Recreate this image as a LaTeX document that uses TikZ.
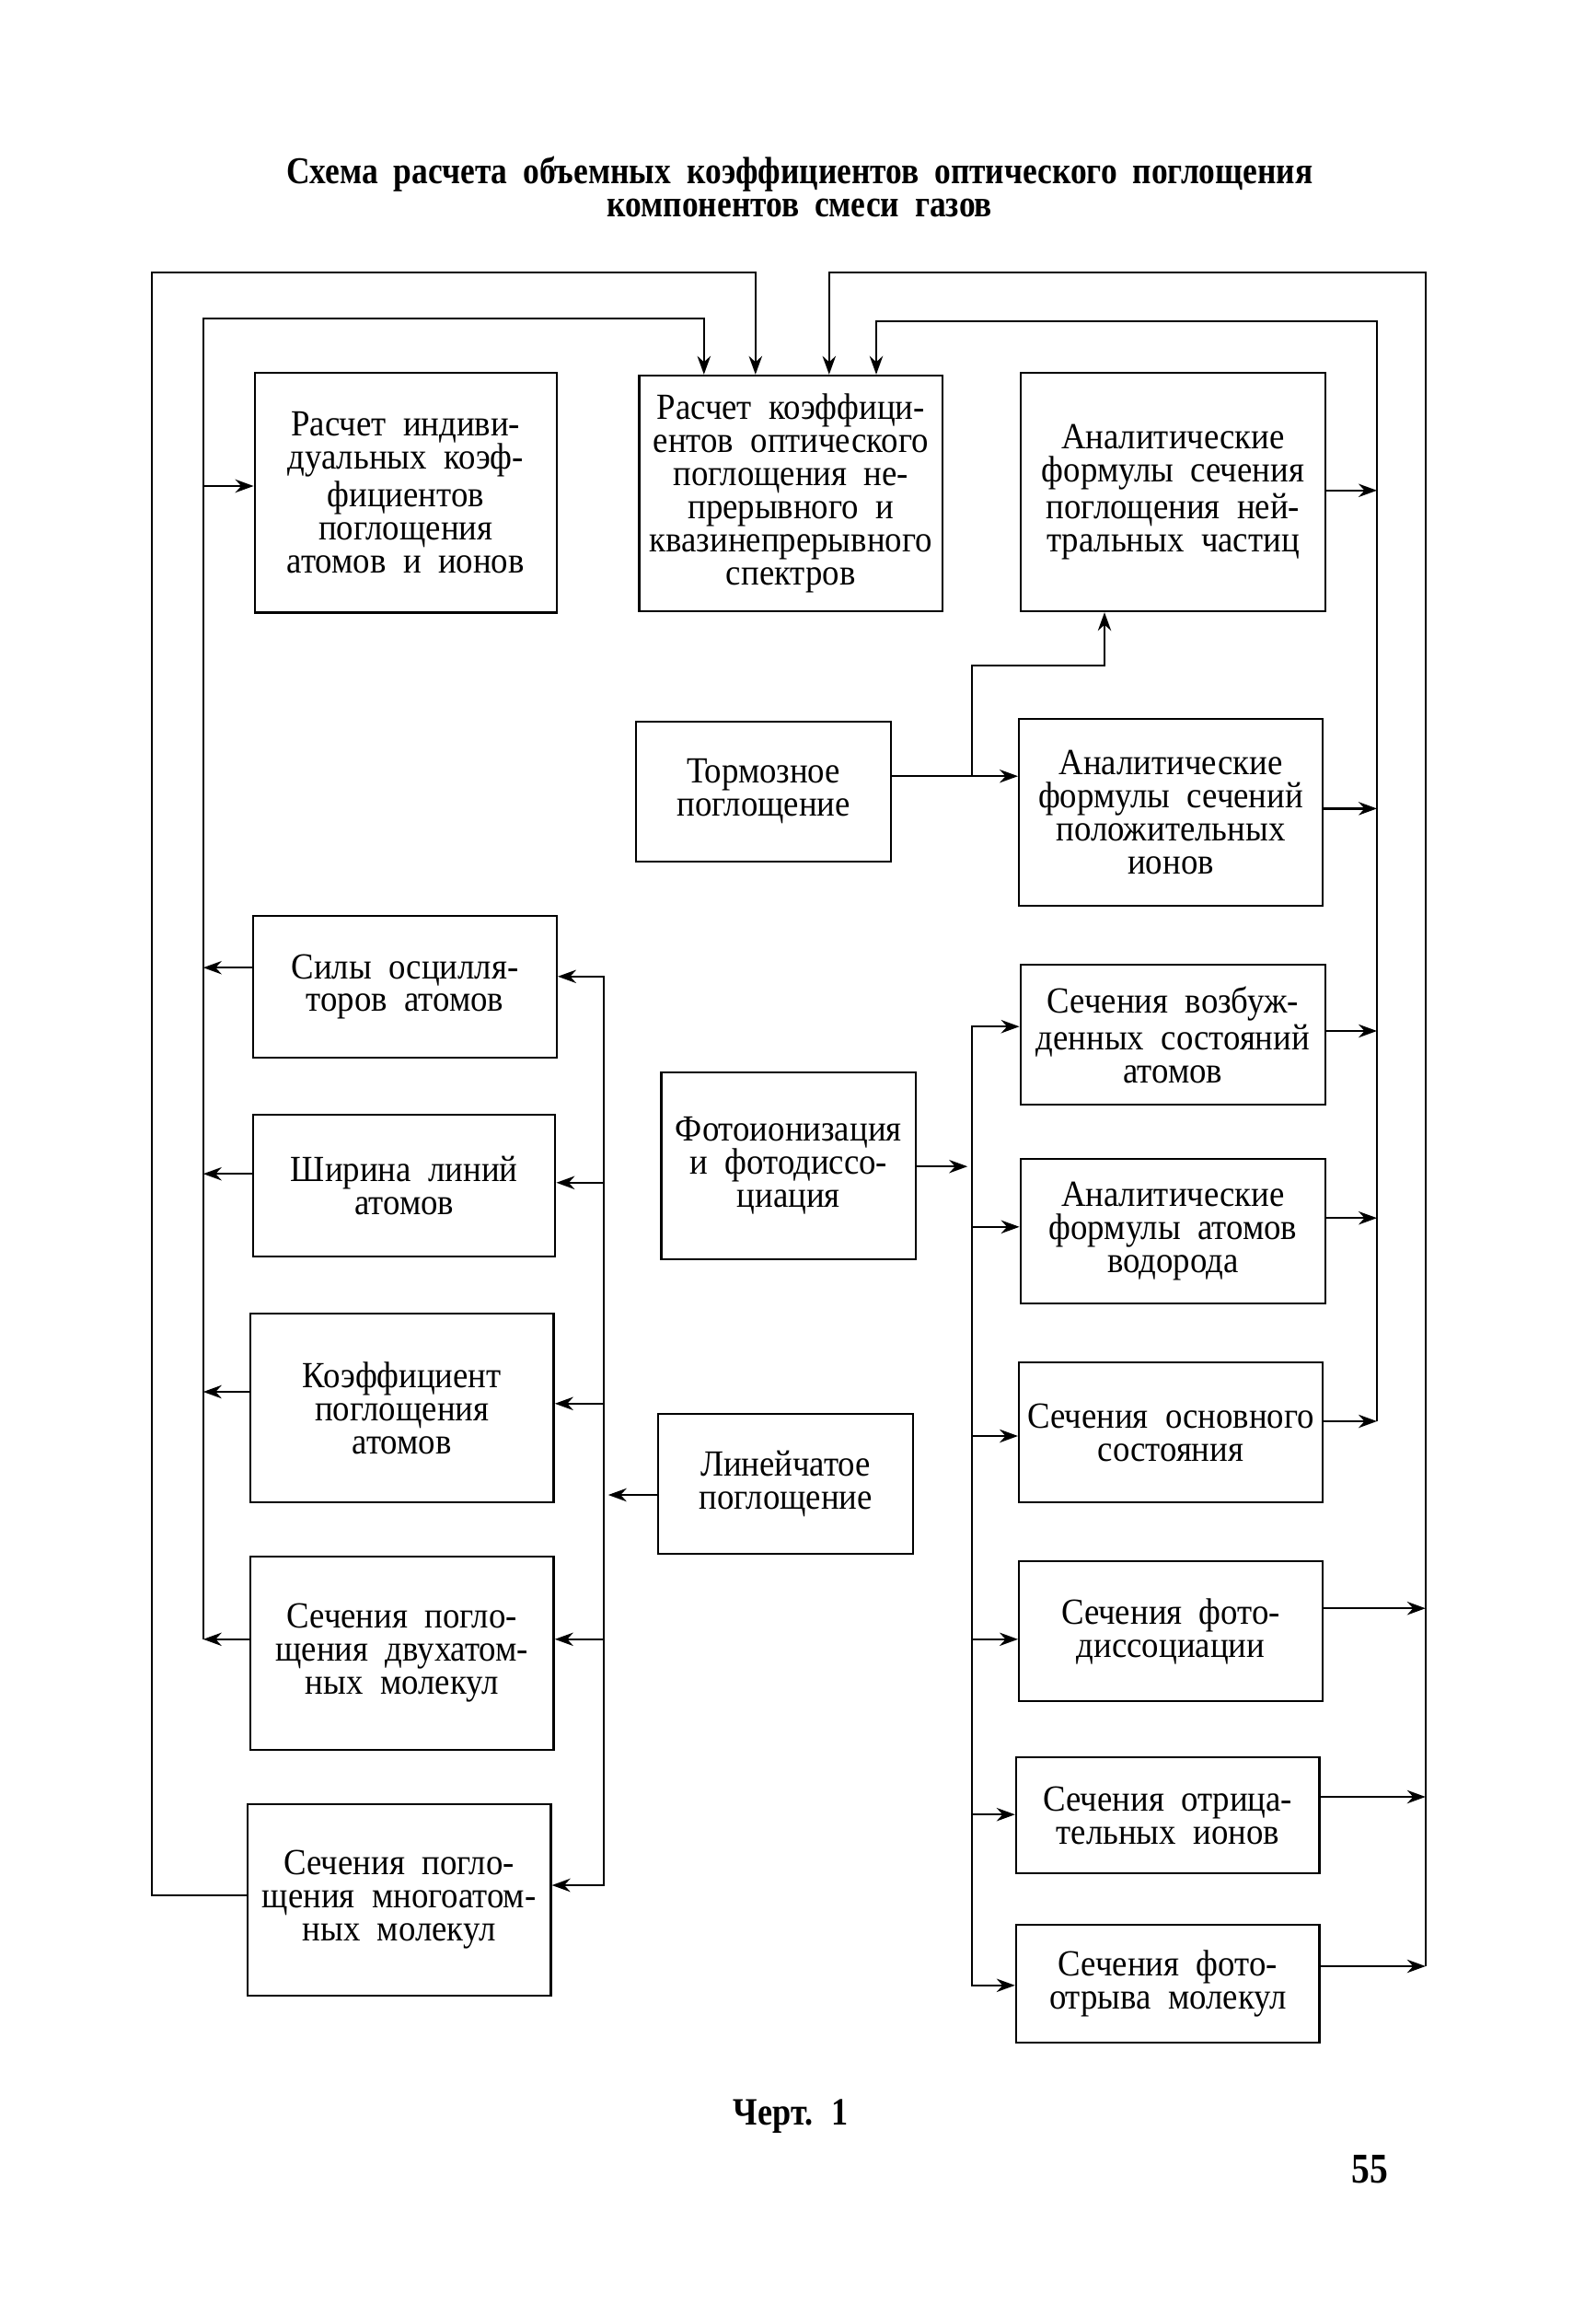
\documentclass[tikz,border=0pt]{standalone}
\usepackage{fontspec}
\setmainfont{Liberation Serif}
\newfontfamily\boxfamily[FakeStretch=0.92, WordSpace={2.0,1,1}]{Liberation Serif}
\newfontfamily\titlefamily[FakeStretch=0.86, WordSpace={1.9,1,1}]{Liberation Serif}
\usetikzlibrary{arrows.meta,calc}
\newcommand{\blockbox}[6]{\node[blk, minimum width={(#4-#2)*0.4pt}, minimum height={(#5-#3)*0.4pt}] (#1) at ({(#2+#4)/2},{(#3+#5)/2}) {#6};}
\tikzset{
  blk/.style={draw, line width=0.6pt, align=center, inner sep=0pt,
    font=\boxfamily\fontsize{10}{9}\selectfont},
  wire/.style={line width=0.55pt},
  arr/.style={-{Stealth[length=5pt,width=3.6pt]}},
  ttl/.style={font=\titlefamily\bfseries\fontsize{10.3}{9.2}\selectfont, inner sep=0pt},
  capt/.style={font=\titlefamily\bfseries\fontsize{10.5}{10}\selectfont, inner sep=0pt}
}
\begin{document}
\begin{tikzpicture}[x=0.4pt,y=-0.4pt]
\useasboundingbox (0,0) rectangle (1083.75,1572.5);

% title
\node[ttl] (t1) at (543,118) {Схема расчета объемных коэффициентов оптического поглощения};
\node[ttl] (t2) at (543,141) {компонентов смеси газов};

% boxes
\blockbox{ri}{173}{253}{378}{416}{Расчет индиви-\\дуальных коэф-\\фициентов\\поглощения\\атомов и ионов}
\blockbox{rk}{434}{255}{640}{415}{Расчет коэффици-\\ентов оптического\\поглощения не-\\прерывного и\\квазинепрерывного\\спектров}
\blockbox{an}{693}{253}{900}{415}{Аналитические\\формулы сечения\\поглощения ней-\\тральных частиц}
\blockbox{tm}{432}{490}{605}{585}{Тормозное\\поглощение}
\blockbox{ap}{692}{488}{898}{615}{Аналитические\\формулы сечений\\положительных\\ионов}
\blockbox{si}{172}{622}{378}{718}{Силы осцилля-\\торов атомов}
\blockbox{sh}{172}{757}{377}{853}{Ширина линий\\атомов}
\blockbox{ko}{170}{892}{376}{1020}{Коэффициент\\поглощения\\атомов}
\blockbox{dv}{170}{1057}{376}{1188}{Сечения погло-\\щения двухатом-\\ных молекул}
\blockbox{mn}{168}{1225}{374}{1355}{Сечения погло-\\щения многоатом-\\ных молекул}
\blockbox{fo}{449}{728}{622}{855}{Фотоионизация\\и фотодиссо-\\циация}
\blockbox{li}{447}{960}{620}{1055}{Линейчатое\\поглощение}
\blockbox{vz}{693}{655}{900}{750}{Сечения возбуж-\\денных состояний\\атомов}
\blockbox{vd}{693}{787}{900}{885}{Аналитические\\формулы атомов\\водорода}
\blockbox{os}{692}{925}{898}{1020}{Сечения основного\\состояния}
\blockbox{fd}{692}{1060}{898}{1155}{Сечения фото-\\диссоциации}
\blockbox{ot}{690}{1193}{896}{1272}{Сечения отрица-\\тельных ионов}
\blockbox{ft}{690}{1307}{896}{1387}{Сечения фото-\\отрыва молекул}

% left outer bus
\draw[wire,arr] (mn.west |- 0,1287) -- (103,1287) -- (103,185) -- (513,185) -- (rk.north -| 513,0);

% left inner bus
\draw[wire,arr] (138,1113) -- (138,216) -- (478,216) -- (rk.north -| 478,0);
\draw[wire,arr] (138,330) -- (ri.west |- 0,330);
\draw[wire,arr] (si.west |- 0,657) -- (138,657);
\draw[wire,arr] (sh.west |- 0,797) -- (138,797);
\draw[wire,arr] (ko.west |- 0,945) -- (138,945);
\draw[wire,arr] (dv.west |- 0,1113) -- (138,1113);

% line absorption bus
\draw[wire,arr] (li.west |- 0,1015) -- (413,1015);
\draw[wire,arr] (410,900) -- (410,663) -- (si.east |- 0,663);
\draw[wire,arr] (410,900) -- (410,1280) -- (mn.east |- 0,1280);
\draw[wire,arr] (410,803) -- (sh.east |- 0,803);
\draw[wire,arr] (410,953) -- (ko.east |- 0,953);
\draw[wire,arr] (410,1113) -- (dv.east |- 0,1113);

% bremsstrahlung
\draw[wire,arr] (tm.east |- 0,527) -- (ap.west |- 0,527);
\draw[wire,arr] (660,527) -- (660,452) -- (750,452) -- (an.south -| 750,0);

% photoionization bus
\draw[wire,arr] (fo.east |- 0,792) -- (657,792);
\draw[wire,arr] (660,1000) -- (660,697) -- (vz.west |- 0,697);
\draw[wire,arr] (660,1000) -- (660,1348) -- (ft.west |- 0,1348);
\draw[wire,arr] (660,833) -- (vd.west |- 0,833);
\draw[wire,arr] (660,975) -- (os.west |- 0,975);
\draw[wire,arr] (660,1113) -- (fd.west |- 0,1113);
\draw[wire,arr] (660,1232) -- (ot.west |- 0,1232);

% right inner bus
\draw[wire,arr] (935,965) -- (935,218) -- (595,218) -- (rk.north -| 595,0);
\draw[wire,arr] (an.east |- 0,333) -- (935,333);
\draw[wire,arr] (ap.east |- 0,549) -- (935,549);
\draw[wire,arr] (vz.east |- 0,700) -- (935,700);
\draw[wire,arr] (vd.east |- 0,827) -- (935,827);
\draw[wire,arr] (os.east |- 0,965) -- (935,965);

% right outer bus
\draw[wire,arr] (968,1335) -- (968,185) -- (563,185) -- (rk.north -| 563,0);
\draw[wire,arr] (fd.east |- 0,1092) -- (968,1092);
\draw[wire,arr] (ot.east |- 0,1220) -- (968,1220);
\draw[wire,arr] (ft.east |- 0,1335) -- (968,1335);

% caption and page number
\node[capt] (cap) at (537,1437) {Черт. 1};
\node[capt, font=\titlefamily\bfseries\fontsize{11.5}{11}\selectfont] (pg) at (930,1473) {55};
\end{tikzpicture}
\end{document}
